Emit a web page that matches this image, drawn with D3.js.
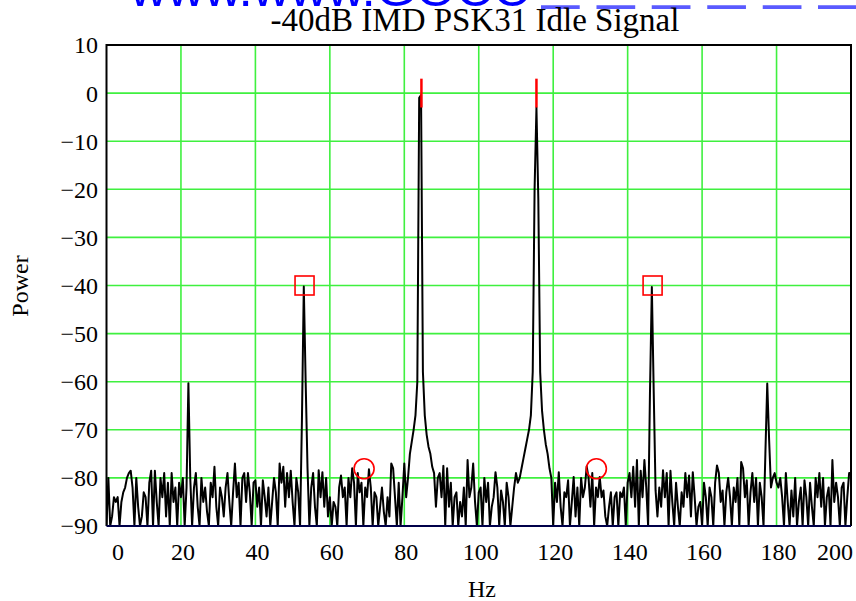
<!DOCTYPE html>
<html><head><meta charset="utf-8">
<script src="https://cdn.jsdelivr.net/npm/d3@7"></script>
<style>body{margin:0;background:#fff;}svg{display:block;}</style>
</head><body>
<script>
// ---- data ----
const freqStart = 0, freqStep = 0.5;
const power = [
-90,-80,-90,-88,-84,-85,-84,-90,-85,-83,
-82,-80,-79,-78.5,-82,-90,-80,-86,-90,-88,
-83,-84,-90,-81,-78.5,-90,-78.5,-85,-90,-80,
-84,-79,-88,-81,-90,-79,-85,-82,-90,-81,
-84,-80,-90,-82,-60.3,-80,-90,-82,-79,-86,
-90,-80,-85,-82,-87,-90,-81,-84,-77.7,-86,
-90,-82,-84,-88,-82,-79,-85,-90,-83,-77,
-84,-81,-90,-80,-79,-85,-79,-83,-90,-81,
-80.5,-86,-82,-90,-80.5,-84,-88,-82,-90,-85,
-80,-83,-90,-77,-81,-77.7,-86,-79,-84,-78.5,
-85,-90,-80,-83,-90,-68,-40.2,-60,-78,-90,
-82,-79,-86,-90,-78.4,-84,-78.8,-86,-80,-88,
-84,-90,-85,-86,-90,-82,-79.5,-84,-82,-90,
-80,-84,-78,-81,-90,-79,-83,-81,-90,-82,
-84,-78.2,-82,-90,-83,-84,-90,-86,-82,-87,
-90,-84,-88,-77,-78,-84,-90,-81,-90,-84,
-77,-84,-80,-75,-72.5,-70,-67,-60,-1,-0.4,
-58,-67,-71,-73.5,-75,-77.7,-79,-86,-80,-79,
-84,-77.5,-90,-78,-86,-81,-90,-84,-83,-90,
-85,-88,-82,-90,-76.3,-84,-82,-77,-85,-90,
-83,-82,-90,-80,-85,-81,-90,-86,-84,-78.8,
-82,-90,-82.6,-85,-90,-81,-84,-90,-86,-82,
-79,-81,-80,-78,-76,-74,-72,-70,-67,-58,
-20,-3,-22,-58,-66,-70,-73,-75,-78,-80,
-90,-81,-85,-78.8,-86,-90,-83,-84,-80.5,-90,
-85,-79.8,-88,-82,-90,-80,-84,-82,-77.6,-80,
-86,-79,-90,-82,-84,-79.8,-84,-82.6,-88,-90,
-86,-83,-90,-84,-83,-90,-83,-84,-82,-90,
-81,-79,-84,-77.7,-86,-76.3,-90,-78.5,-84,-76.3,
-82,-90,-62,-40.3,-62,-82.6,-88,-82,-86,-78.4,
-84,-79,-90,-78.5,-85,-90,-81,-86,-90,-83,
-86,-79,-84,-79.5,-88,-78.8,-84,-90,-86,-85,
-90,-81,-84,-90,-82,-84,-90,-81,-77.4,-79,
-85,-82.6,-90,-83,-80,-84,-90,-82,-85,-80,
-90,-76.7,-78,-84,-80.5,-90,-83,-79,-85,-80,
-90,-81,-84,-90,-75,-60.4,-72,-82,-80,-79,
-81,-82,-80,-84,-90,-79,-85,-90,-82.6,-88,
-80,-90,-85,-82,-90,-80.5,-84,-90,-81,-86,
-90,-80,-84,-79,-86,-80,-90,-84,-82,-90,
-76.3,-85,-81,-84,-90,-82,-81,-90,-84,-79,
-79
];
const toneFreqs = [84.6, 115.5];        // red vertical markers
const toneMarkerRange = [3, -3];
const squareMarks = [[53.2, -40], [146.7, -40]];
const circleMarks = [[69.2, -78.1], [131.6, -78.1]];
const xTicks = [0,20,40,60,80,100,120,140,160,180,200];
const yTicks = [10,0,-10,-20,-30,-40,-50,-60,-70,-80,-90];
const titleText = "-40dB IMD PSK31 Idle Signal";
const xLabel = "Hz", yLabel = "Power";
const watermarkText = "www.www.GOCC";

// ---- chart ----
const W = 856, H = 601;
const L = 106.5, R = 851, T = 45, B = 526;
const svg = d3.select("body").append("svg").attr("width", W).attr("height", H);
const x = d3.scaleLinear().domain([0, 200]).range([L, R]);
const y = d3.scaleLinear().domain([-90, 10]).range([B, T]);
const serif = "'Liberation Serif','Times New Roman',serif";

// watermark remnants at top (cut by the page edge, as in the reference)
svg.append("text").attr("x", 130).attr("y", 6).attr("font-family", "'Liberation Sans',Arial,sans-serif")
  .attr("font-size", 48).attr("fill", "#0000ff").attr("textLength", 400).attr("lengthAdjust","spacingAndGlyphs")
  .text(watermarkText);
svg.append("text").attr("x", 542).attr("y", -3).attr("font-family", "'Liberation Sans',Arial,sans-serif")
  .attr("font-size", 60).attr("fill", "#5a5aff").attr("textLength", 314).attr("lengthAdjust","spacingAndGlyphs")
  .text("_ _ _ _ _ _");

svg.append("text").attr("x", 475).attr("y", 31).attr("text-anchor", "middle")
  .attr("font-family", serif).attr("font-size", 33).attr("fill", "#000").text(titleText);

// grid
const grid = svg.append("g").attr("stroke", "#3ff03f").attr("stroke-width", 1.6);
grid.selectAll("line.v").data(xTicks.filter(d => d > 0 && d < 200)).join("line")
  .attr("x1", d => x(d)).attr("x2", d => x(d)).attr("y1", T).attr("y2", B);
grid.selectAll("line.h").data(yTicks.filter(d => d < 10 && d > -90)).join("line").attr("class","h")
  .attr("x1", L).attr("x2", R).attr("y1", d => y(d)).attr("y2", d => y(d));

// data line
svg.append("clipPath").attr("id", "clip").append("rect").attr("x", L).attr("y", T - 10).attr("width", R - L).attr("height", B - T + 10);
const data = power.map((p, i) => [freqStart + i * freqStep, p]);
svg.append("path").datum(data).attr("clip-path", "url(#clip)")
  .attr("fill", "none").attr("stroke", "#000").attr("stroke-width", 2).attr("stroke-linejoin", "round")
  .attr("d", d3.line().x(d => x(d[0])).y(d => y(Math.max(-90, d[1]))));

// frame
svg.append("path").attr("fill", "none").attr("stroke", "#000").attr("stroke-width", 2)
  .attr("d", `M${L},${B}V${T}H${R}V${B}`);
svg.append("line").attr("x1", L).attr("x2", R).attr("y1", B).attr("y2", B)
  .attr("stroke", "#00004a").attr("stroke-width", 2);

// markers
svg.selectAll("line.tone").data(toneFreqs).join("line").attr("class", "tone")
  .attr("x1", d => x(d)).attr("x2", d => x(d)).attr("y1", y(toneMarkerRange[0])).attr("y2", y(toneMarkerRange[1]))
  .attr("stroke", "#ff0000").attr("stroke-width", 2.5);
svg.selectAll("rect.sq").data(squareMarks).join("rect").attr("class", "sq")
  .attr("x", d => x(d[0]) - 9.5).attr("y", d => y(d[1]) - 9.5).attr("width", 19).attr("height", 19)
  .attr("fill", "none").attr("stroke", "#ff0000").attr("stroke-width", 1.6);
svg.selectAll("circle.cm").data(circleMarks).join("circle").attr("class", "cm")
  .attr("cx", d => x(d[0])).attr("cy", d => y(d[1])).attr("r", 10)
  .attr("fill", "none").attr("stroke", "#ff0000").attr("stroke-width", 1.6);

// tick labels
const fmt = d => d < 0 ? "\u2212" + Math.abs(d) : String(d);
svg.selectAll("text.yt").data(yTicks).join("text").attr("class", "yt")
  .attr("x", 98).attr("y", d => y(d)).attr("dy", "0.35em").attr("text-anchor", "end")
  .attr("font-family", serif).attr("font-size", 24).text(fmt);
svg.selectAll("text.xt").data(xTicks).join("text").attr("class", "xt")
  .attr("x", (d, i) => i === 0 ? 112 : (i === xTicks.length - 1 ? 853 : x(d) + 2))
  .attr("y", 560)
  .attr("text-anchor", (d, i) => i === 0 ? "start" : (i === xTicks.length - 1 ? "end" : "middle"))
  .attr("font-family", serif).attr("font-size", 24).text(fmt);

svg.append("text").attr("x", 482).attr("y", 597).attr("text-anchor", "middle")
  .attr("font-family", serif).attr("font-size", 24).text(xLabel);
svg.append("text").attr("transform", "translate(28,286) rotate(-90)").attr("text-anchor", "middle")
  .attr("font-family", serif).attr("font-size", 24).text(yLabel);
</script>
</body></html>
